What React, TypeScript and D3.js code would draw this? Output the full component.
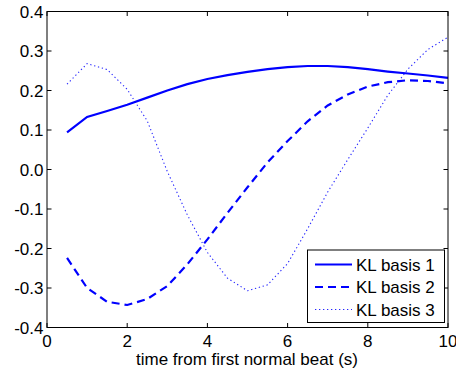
import React from "react";
import * as d3 from "d3";

const xs = [0.5, 1, 1.5, 2, 2.5, 3, 3.5, 4, 4.5, 5, 5.5, 6, 6.5, 7, 7.5, 8, 8.5, 9, 9.5, 10];
const basis1 = [0.094, 0.133, 0.148, 0.164, 0.182, 0.2, 0.216, 0.229, 0.239, 0.247, 0.254, 0.259, 0.262, 0.262, 0.259, 0.254, 0.248, 0.243, 0.238, 0.232];
const basis2 = [-0.224, -0.3, -0.335, -0.343, -0.328, -0.295, -0.24, -0.177, -0.11, -0.045, 0.018, 0.072, 0.122, 0.162, 0.19, 0.21, 0.221, 0.226, 0.224, 0.218];
const basis3 = [0.216, 0.268, 0.253, 0.203, 0.123, -0.005, -0.115, -0.21, -0.275, -0.307, -0.292, -0.238, -0.15, -0.057, 0.025, 0.105, 0.188, 0.254, 0.304, 0.335];
const seriesNames = ["KL basis 1", "KL basis 2", "KL basis 3"];
const xTicks = [0, 2, 4, 6, 8, 10];
const yTicks = [-0.4, -0.3, -0.2, -0.1, 0, 0.1, 0.2, 0.3, 0.4];
const xTitle = "time from first normal beat (s)";

const W = 456, H = 372;
const L = 47, R = 448, T = 11.5, B = 327.5;
const FONT = "'Liberation Sans', Arial, Helvetica, sans-serif";
const FS = 17;

const styles = [
  { width: 2.2, dash: "none", opacity: 1 },
  { width: 2.2, dash: "8 5", opacity: 1 },
  { width: 1.1, dash: "1.3 2.7", opacity: 0.85 },
];

export default function App() {
  const x = d3.scaleLinear().domain([0, 10]).range([L, R]);
  const y = d3.scaleLinear().domain([-0.4, 0.4]).range([B, T]);
  const line = d3.line<[number, number]>().x((d) => x(d[0])).y((d) => y(d[1]));
  const all = [basis1, basis2, basis3];
  const tl = 4.5;
  const lgX0 = 307.5, lgX1 = 444.5, lgY0 = 250, lgY1 = 322.5;
  const rowY = [264.5, 287, 309.5];
  return (
    <svg width={W} height={H} style={{ position: "absolute", left: 0, top: 0, background: "#fff" }}>
      <rect x={0} y={0} width={W} height={H} fill="#fff" />
      {all.map((s, i) => (
        <path
          key={i}
          d={line(xs.map((xv, j) => [xv, s[j]] as [number, number])) || ""}
          fill="none"
          stroke="#0000ff"
          strokeWidth={styles[i].width}
          strokeDasharray={styles[i].dash}
          strokeOpacity={styles[i].opacity}
        />
      ))}
      <rect x={L} y={T} width={R - L} height={B - T} fill="none" stroke="#000" strokeWidth={1} />
      {xTicks.map((t) => (
        <g key={"x" + t}>
          <line x1={x(t)} x2={x(t)} y1={B} y2={B - tl} stroke="#000" />
          <line x1={x(t)} x2={x(t)} y1={T} y2={T + tl} stroke="#000" />
          <text x={x(t)} y={347} textAnchor="middle" fontFamily={FONT} fontSize={FS} fill="#000">
            {String(t)}
          </text>
        </g>
      ))}
      {yTicks.map((t) => (
        <g key={"y" + t}>
          <line x1={L} x2={L + tl} y1={y(t)} y2={y(t)} stroke="#000" />
          <line x1={R} x2={R - tl} y1={y(t)} y2={y(t)} stroke="#000" />
          <text x={43.5} y={y(t) + 6} textAnchor="end" fontFamily={FONT} fontSize={FS} fill="#000">
            {d3.format(".1f")(t).replace("−", "-")}
          </text>
        </g>
      ))}
      <text x={(L + R) / 2 - 0.5} y={364.5} textAnchor="middle" fontFamily={FONT} fontSize={FS} fill="#000">
        {xTitle}
      </text>
      <rect x={lgX0} y={lgY0} width={lgX1 - lgX0} height={lgY1 - lgY0} fill="#fff" stroke="#000" strokeWidth={1} />
      {seriesNames.map((n, i) => (
        <g key={n}>
          <line
            x1={315}
            x2={352}
            y1={rowY[i]}
            y2={rowY[i]}
            stroke="#0000ff"
            strokeWidth={styles[i].width}
            strokeDasharray={styles[i].dash}
            strokeOpacity={styles[i].opacity}
          />
          <text x={356} y={rowY[i] + 6} fontFamily={FONT} fontSize={FS} fill="#000">
            {n}
          </text>
        </g>
      ))}
    </svg>
  );
}
